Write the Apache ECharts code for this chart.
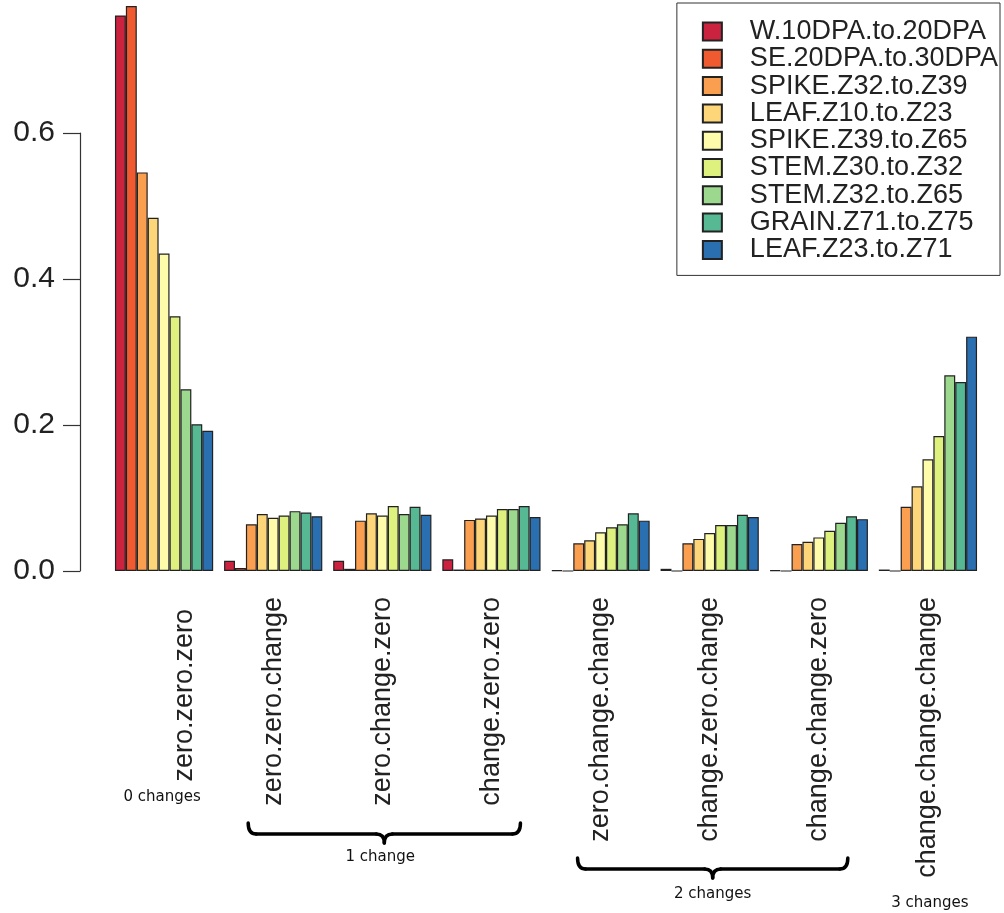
<!DOCTYPE html>
<html>
<head>
<meta charset="utf-8">
<script src="https://cdn.jsdelivr.net/npm/echarts@6/dist/echarts.min.js"></script>
<style>html,body{margin:0;padding:0;background:#fff;}#chart{width:1004px;height:913px;}</style>
</head>
<body>
<div id="chart"></div>
<script>
const categories = ['zero.zero.zero','zero.zero.change','zero.change.zero','change.zero.zero','zero.change.change','change.zero.change','change.change.zero','change.change.change'];
const seriesNames = ['W.10DPA.to.20DPA','SE.20DPA.to.30DPA','SPIKE.Z32.to.Z39','LEAF.Z10.to.Z23','SPIKE.Z39.to.Z65','STEM.Z30.to.Z32','STEM.Z32.to.Z65','GRAIN.Z71.to.Z75','LEAF.Z23.to.Z71'];
const W_10DPA_to_20DPA  = [0.761, 0.014, 0.014, 0.016, 0.001, 0.003, 0.001, 0.002];
const SE_20DPA_to_30DPA = [0.774, 0.004, 0.003, 0.002, 0.000, 0.000, 0.000, 0.000];
const SPIKE_Z32_to_Z39  = [0.546, 0.064, 0.069, 0.070, 0.038, 0.038, 0.037, 0.088];
const LEAF_Z10_to_Z23   = [0.484, 0.078, 0.079, 0.072, 0.042, 0.044, 0.040, 0.116];
const SPIKE_Z39_to_Z65  = [0.435, 0.073, 0.076, 0.076, 0.053, 0.052, 0.046, 0.153];
const STEM_Z30_to_Z32   = [0.349, 0.076, 0.089, 0.085, 0.060, 0.063, 0.055, 0.185];
const STEM_Z32_to_Z65   = [0.249, 0.082, 0.078, 0.085, 0.064, 0.063, 0.066, 0.268];
const GRAIN_Z71_to_Z75  = [0.201, 0.080, 0.088, 0.089, 0.079, 0.077, 0.075, 0.259];
const LEAF_Z23_to_Z71   = [0.192, 0.075, 0.077, 0.074, 0.069, 0.074, 0.071, 0.321];
const seriesValues = [W_10DPA_to_20DPA, SE_20DPA_to_30DPA, SPIKE_Z32_to_Z39, LEAF_Z10_to_Z23, SPIKE_Z39_to_Z65, STEM_Z30_to_Z32, STEM_Z32_to_Z65, GRAIN_Z71_to_Z75, LEAF_Z23_to_Z71];
const colors = ['#CB223F','#EF5A31','#FA9E50','#FDD679','#FEFBAA','#DEF07E','#9DD88F','#56B993','#2A6FAF'];
const groupNotes = ['0 changes','1 change','2 changes','3 changes'];

const chart = echarts.init(document.getElementById('chart'), null, {renderer:'canvas'});
const FONT = 'Liberation Sans, Arial, Helvetica, sans-serif';

const option = {
  animation: false,
  backgroundColor: '#ffffff',
  grid: { left: 109.5, right: 21.5, top: 133, bottom: 342, containLabel: false },
  legend: {
    orient: 'vertical', right: 4, top: 3,
    data: seriesNames,
    borderColor: '#333', borderWidth: 1,
    padding: [15, 2, 12, 25],
    itemWidth: 19, itemHeight: 18, itemGap: 0.3,
    icon: 'rect',
    textStyle: { fontFamily: FONT, fontSize: 27, color: '#222', padding: [0,0,0,23] }
  },
  xAxis: {
    type: 'category', data: categories,
    axisLine: { show: false }, axisTick: { show: false },
    axisLabel: {
      rotate: 90, margin: 26, fontFamily: FONT, fontSize: 27, color: '#222', interval: 0,
      formatter: (v, i) => i === 0 ? '{s|' + v + '}' : v,
      rich: { s: { fontFamily: FONT, fontSize: 27, color: '#222', padding: [40, 12, 0, 0] } }
    }
  },
  yAxis: {
    type: 'value', min: 0, max: 0.6, interval: 0.2, offset: 29.5,
    splitLine: { show: false },
    axisLine: { show: true, lineStyle: { color: '#333', width: 1.2 } },
    axisTick: { show: true, length: 17, lineStyle: { color: '#333', width: 1.2 } },
    axisLabel: { margin: 25, fontFamily: FONT, fontSize: 30, color: '#222', formatter: v => v.toFixed(1) }
  },
  series: seriesNames.map((n, i) => ({
    name: n, type: 'bar', data: seriesValues[i],
    barGap: '0%', barCategoryGap: '10%', clip: false,
    itemStyle: { color: colors[i], borderColor: '#222', borderWidth: 1.2 }
  }))
};
chart.setOption(option);

function px(catIdx) { return chart.convertToPixel({xAxisIndex:0}, categories[catIdx]); }
const lineStyle = { fill: null, stroke: '#000', lineWidth: 3.5, lineCap: 'round' };
function brace(x0, x1, yTop, yMid, yTip) {
  const xc = (x0 + x1) / 2, r = 8;
  return [
    { type: 'bezierCurve', shape: { x1: x0, y1: yTop, x2: x0 + r, y2: yMid, cpx1: x0, cpy1: yMid }, style: lineStyle },
    { type: 'line', shape: { x1: x0 + r, y1: yMid, x2: xc - r, y2: yMid }, style: lineStyle },
    { type: 'bezierCurve', shape: { x1: xc - r, y1: yMid, x2: xc, y2: yTip, cpx1: xc, cpy1: yMid }, style: lineStyle },
    { type: 'bezierCurve', shape: { x1: xc, y1: yTip, x2: xc + r, y2: yMid, cpx1: xc, cpy1: yMid }, style: lineStyle },
    { type: 'line', shape: { x1: xc + r, y1: yMid, x2: x1 - r, y2: yMid }, style: lineStyle },
    { type: 'bezierCurve', shape: { x1: x1 - r, y1: yMid, x2: x1, y2: yTop, cpx1: x1, cpy1: yMid }, style: lineStyle }
  ];
}
const b1x0 = px(1) - 25, b1x1 = px(3) + 29;
const b2x0 = px(4) - 23, b2x1 = px(6) + 29;
const noteStyle = { font: '15px "DejaVu Sans", sans-serif', fill: '#111', textAlign: 'center', textVerticalAlign: 'middle' };
const graphics = [].concat(
  brace(b1x0, b1x1, 823, 834, 843),
  brace(b2x0, b2x1, 858, 869, 878),
  [
    { type: 'text', x: px(0) - 2, y: 797, style: Object.assign({ text: groupNotes[0] }, noteStyle) },
    { type: 'text', x: (b1x0 + b1x1) / 2 - 4, y: 857, style: Object.assign({ text: groupNotes[1] }, noteStyle) },
    { type: 'text', x: (b2x0 + b2x1) / 2, y: 894, style: Object.assign({ text: groupNotes[2] }, noteStyle) },
    { type: 'text', x: px(7) + 2, y: 903, style: Object.assign({ text: groupNotes[3] }, noteStyle) }
  ]
);
chart.setOption({ graphic: graphics });
</script>
</body>
</html>
